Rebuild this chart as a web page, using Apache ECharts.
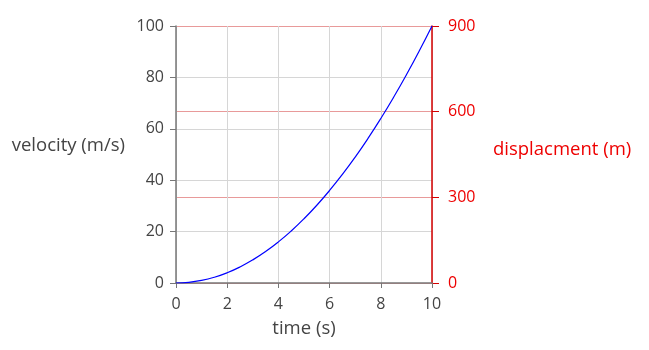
<!DOCTYPE html>
<html>
<head>
<meta charset="utf-8">
<script src="https://cdn.jsdelivr.net/npm/echarts@6/dist/echarts.min.js"></script>
<style>html,body{margin:0;padding:0;background:#fff;}#c{width:649px;height:350px;}</style>
</head>
<body>
<div id="c"></div>
<script>
var timeValues = [0, 0.5, 1, 1.5, 2, 2.5, 3, 3.5, 4, 4.5, 5, 5.5, 6, 6.5, 7, 7.5, 8, 8.5, 9, 9.5, 10];
var velocityValues = [0, 0.25, 1, 2.25, 4, 6.25, 9, 12.25, 16, 20.25, 25, 30.25, 36, 42.25, 49, 56.25, 64, 72.25, 81, 90.25, 100];
var xTicks = [0, 2, 4, 6, 8, 10];
var leftTicks = [0, 20, 40, 60, 80, 100];
var rightTicks = [0, 300, 600, 900];

var font = 'Open Sans';
var chart = echarts.init(document.getElementById('c'), null, {renderer: 'canvas'});
chart.setOption({
  animation: false,
  backgroundColor: '#fff',
  grid: {left: 176, right: 217, top: 26, bottom: 67, containLabel: false},
  xAxis: {
    type: 'value', min: xTicks[0], max: xTicks[xTicks.length - 1], interval: 2,
    name: 'time (s)', nameLocation: 'middle', nameGap: 36,
    nameTextStyle: {fontFamily: font, fontSize: 18.5, color: '#444'},
    axisLine: {show: true, onZero: false, lineStyle: {color: '#777', width: 1.5}},
    axisTick: {show: true, length: 5, lineStyle: {color: '#777'}},
    axisLabel: {fontFamily: font, fontSize: 16, color: '#444', margin: 13},
    splitLine: {show: true, lineStyle: {color: '#d6d6d6'}}
  },
  yAxis: [{
    type: 'value', min: leftTicks[0], max: leftTicks[leftTicks.length - 1], interval: 20, position: 'left',
    name: 'velocity (m/s)', nameLocation: 'middle', nameRotate: 0, nameGap: 51,
    nameTextStyle: {fontFamily: font, fontSize: 18.5, color: '#444', verticalAlign: 'bottom', lineHeight: 18},
    axisLine: {show: true, lineStyle: {color: '#777', width: 1.5}},
    axisTick: {show: true, length: 6, lineStyle: {color: '#777'}},
    axisLabel: {fontFamily: font, fontSize: 16, color: '#444', margin: 12},
    splitLine: {show: true, lineStyle: {color: '#d6d6d6'}}
  }, {
    type: 'value', min: rightTicks[0], max: rightTicks[rightTicks.length - 1], interval: 300, position: 'right',
    name: 'displacment (m)', nameLocation: 'middle', nameRotate: 0, nameGap: 61,
    nameTextStyle: {fontFamily: font, fontSize: 18.5, color: '#ee0000', verticalAlign: 'bottom', lineHeight: 10},
    axisLine: {show: true, lineStyle: {color: '#d40000', width: 1.5}},
    axisTick: {show: true, length: 7, lineStyle: {color: '#d40000'}},
    axisLabel: {fontFamily: font, fontSize: 16, color: '#ee0000', margin: 16},
    splitLine: {show: true, lineStyle: {color: '#e89a9a'}}
  }],
  series: [{
    type: 'line', yAxisIndex: 0, smooth: true, showSymbol: false,
    data: timeValues.map(function (t, i) { return [t, velocityValues[i]]; }),
    lineStyle: {color: '#0000ff', width: 1.2}
  }]
});
</script>
</body>
</html>
